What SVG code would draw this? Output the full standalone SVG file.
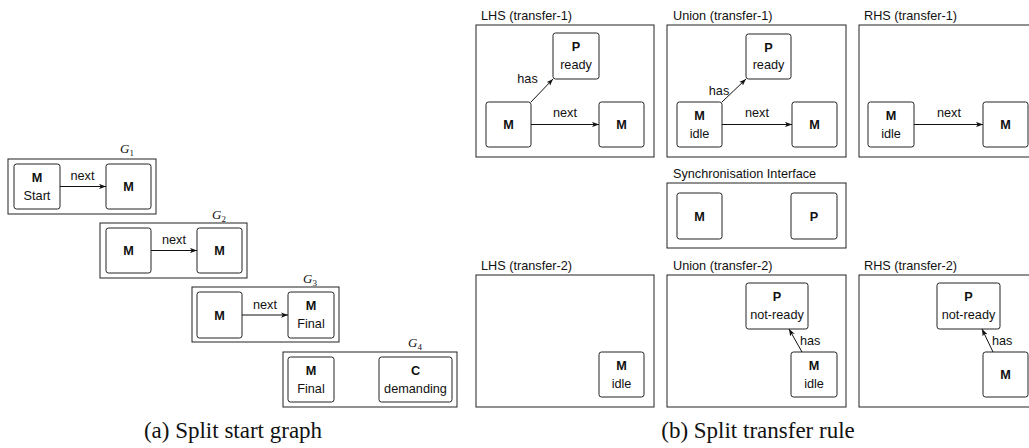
<svg xmlns="http://www.w3.org/2000/svg" width="1029" height="448" viewBox="0 0 1029 448">
<style>
.frame{fill:#fff;stroke:#222;stroke-width:1}
.node{fill:#fff;stroke:#222;stroke-width:1}
.t{font-family:"Liberation Sans",Arial,Helvetica,sans-serif;font-size:12.7px;fill:#111}
.b{font-weight:bold}
.m{text-anchor:middle}
.edge{fill:none;stroke:#111;stroke-width:1}
.g{font-family:"Liberation Serif","Times New Roman",serif;font-style:italic;font-size:13px;fill:#111}
.cap{font-family:"Liberation Serif","Times New Roman",serif;font-size:23px;fill:#111;text-anchor:middle}
</style>
<defs>
<marker id="arr" viewBox="0 0 8 6" refX="8" refY="3" markerWidth="7" markerHeight="5.5" markerUnits="userSpaceOnUse" orient="auto">
<path d="M0,0 L8,3 L0,6 L2,3 Z" fill="#111"/>
</marker>
</defs>
<rect width="1029" height="448" fill="#fff"/>

<!-- Left: split start graph -->
<g id="G1">
<rect class="frame" x="8" y="159" width="148" height="55"/>
<text class="g" x="120" y="153">G<tspan font-size="9" dy="2.5" font-style="normal">1</tspan></text>
<g id="G1-n1"><rect class="node" x="14" y="164" width="46" height="45" rx="2.5"/><text class="t b m" x="37" y="182">M</text><text class="t m" x="37" y="199.5">Start</text></g>
<g id="G1-n2"><rect class="node" x="106" y="164" width="45" height="45" rx="2.5"/><text class="t b m" x="128.5" y="191">M</text></g>
</g>
<g id="G2">
<rect class="frame" x="100" y="223" width="147" height="55"/>
<text class="g" x="212" y="219">G<tspan font-size="9" dy="2.5" font-style="normal">2</tspan></text>
<g id="G2-n1"><rect class="node" x="106" y="228" width="45" height="45" rx="2.5"/><text class="t b m" x="128.5" y="255">M</text></g>
<g id="G2-n2"><rect class="node" x="197" y="228" width="45" height="45" rx="2.5"/><text class="t b m" x="219.5" y="255">M</text></g>
</g>
<g id="G3">
<rect class="frame" x="192" y="287" width="147" height="55"/>
<text class="g" x="303" y="283">G<tspan font-size="9" dy="2.5" font-style="normal">3</tspan></text>
<g id="G3-n1"><rect class="node" x="197" y="292" width="45" height="46" rx="2.5"/><text class="t b m" x="219.5" y="319.5">M</text></g>
<g id="G3-n2"><rect class="node" x="288" y="292" width="46" height="46" rx="2.5"/><text class="t b m" x="311" y="310">M</text><text class="t m" x="311" y="327.5">Final</text></g>
</g>
<g id="G4">
<rect class="frame" x="283" y="352" width="174" height="55"/>
<text class="g" x="408" y="347">G<tspan font-size="9" dy="2.5" font-style="normal">4</tspan></text>
<g id="G4-n1"><rect class="node" x="288" y="357" width="46" height="45" rx="2.5"/><text class="t b m" x="311" y="375">M</text><text class="t m" x="311" y="392.5">Final</text></g>
<g id="G4-n2"><rect class="node" x="379" y="357" width="73" height="45" rx="2.5"/><text class="t b m" x="415.5" y="375">C</text><text class="t m" x="415.5" y="392.5">demanding</text></g>
</g>

<!-- Right: split transfer rule -->
<g id="LHS1">
<text class="t" x="481" y="19.5">LHS (transfer-1)</text>
<rect class="frame" x="476" y="25" width="178" height="132"/>
<g id="LHS1-P"><rect class="node" x="553" y="33" width="46" height="46" rx="2.5"/><text class="t b m" x="576" y="51">P</text><text class="t m" x="576" y="68.5">ready</text></g>
<g id="LHS1-M1"><rect class="node" x="486" y="102" width="45" height="45" rx="2.5"/><text class="t b m" x="508.5" y="129">M</text></g>
<g id="LHS1-M2"><rect class="node" x="599" y="102" width="45" height="45" rx="2.5"/><text class="t b m" x="621.5" y="129">M</text></g>
</g>
<g id="UNION1">
<text class="t" x="673" y="19.5">Union (transfer-1)</text>
<rect class="frame" x="667" y="25" width="179" height="132"/>
<g id="UNION1-P"><rect class="node" x="746" y="34" width="45" height="45" rx="2.5"/><text class="t b m" x="768.5" y="51.5">P</text><text class="t m" x="768.5" y="69">ready</text></g>
<g id="UNION1-M1"><rect class="node" x="677" y="102" width="45" height="45" rx="2.5"/><text class="t b m" x="699.5" y="120">M</text><text class="t m" x="699.5" y="137.5">idle</text></g>
<g id="UNION1-M2"><rect class="node" x="792" y="102" width="45" height="45" rx="2.5"/><text class="t b m" x="814.5" y="129">M</text></g>
</g>
<g id="RHS1">
<text class="t" x="864" y="19.5">RHS (transfer-1)</text>
<rect class="frame" x="859" y="25" width="180" height="132"/>
<g id="RHS1-M1"><rect class="node" x="868" y="102" width="46" height="45" rx="2.5"/><text class="t b m" x="891" y="120">M</text><text class="t m" x="891" y="137.5">idle</text></g>
<g id="RHS1-M2"><rect class="node" x="983" y="102" width="45" height="45" rx="2.5"/><text class="t b m" x="1005.5" y="129">M</text></g>
</g>
<g id="SYNC">
<text class="t" x="673" y="177.5">Synchronisation Interface</text>
<rect class="frame" x="667" y="183" width="179" height="65"/>
<g id="SYNC-M"><rect class="node" x="677" y="193" width="45" height="46" rx="2.5"/><text class="t b m" x="699.5" y="220.5">M</text></g>
<g id="SYNC-P"><rect class="node" x="791" y="193" width="46" height="46" rx="2.5"/><text class="t b m" x="814" y="220.5">P</text></g>
</g>
<g id="LHS2">
<text class="t" x="481" y="269.5">LHS (transfer-2)</text>
<rect class="frame" x="476" y="275" width="178" height="132"/>
<g id="LHS2-M"><rect class="node" x="599" y="352" width="45" height="45" rx="2.5"/><text class="t b m" x="621.5" y="370">M</text><text class="t m" x="621.5" y="387.5">idle</text></g>
</g>
<g id="UNION2">
<text class="t" x="673" y="269.5">Union (transfer-2)</text>
<rect class="frame" x="667" y="275" width="179" height="132"/>
<g id="UNION2-P"><rect class="node" x="746" y="283" width="62" height="46" rx="2.5"/><text class="t b m" x="777" y="301">P</text><text class="t m" x="777" y="318.5">not-ready</text></g>
<g id="UNION2-M"><rect class="node" x="791" y="352" width="46" height="45" rx="2.5"/><text class="t b m" x="814" y="370">M</text><text class="t m" x="814" y="387.5">idle</text></g>
</g>
<g id="RHS2">
<text class="t" x="864" y="269.5">RHS (transfer-2)</text>
<rect class="frame" x="859" y="275" width="180" height="132"/>
<g id="RHS2-P"><rect class="node" x="937" y="283" width="63" height="46" rx="2.5"/><text class="t b m" x="968.5" y="301">P</text><text class="t m" x="968.5" y="318.5">not-ready</text></g>
<g id="RHS2-M"><rect class="node" x="983" y="352" width="45" height="45" rx="2.5"/><text class="t b m" x="1005.5" y="379">M</text></g>
</g>

<g id="connectors">
<line class="edge" x1="60" y1="186.5" x2="106" y2="186.5" marker-end="url(#arr)"/>
<text class="t m" x="82.5" y="180">next</text>
<line class="edge" x1="151" y1="250.5" x2="197" y2="250.5" marker-end="url(#arr)"/>
<text class="t m" x="174" y="244">next</text>
<line class="edge" x1="242" y1="315" x2="288" y2="315" marker-end="url(#arr)"/>
<text class="t m" x="265" y="308.5">next</text>

<line class="edge" x1="531" y1="102" x2="553" y2="79" marker-end="url(#arr)"/>
<text class="t m" x="527.5" y="83">has</text>
<line class="edge" x1="531" y1="124.5" x2="599" y2="124.5" marker-end="url(#arr)"/>
<text class="t m" x="565" y="117">next</text>

<line class="edge" x1="722" y1="102" x2="746" y2="79" marker-end="url(#arr)"/>
<text class="t m" x="719" y="95">has</text>
<line class="edge" x1="722" y1="124.5" x2="792" y2="124.5" marker-end="url(#arr)"/>
<text class="t m" x="757" y="117">next</text>

<line class="edge" x1="914" y1="124.5" x2="983" y2="124.5" marker-end="url(#arr)"/>
<text class="t m" x="949" y="117">next</text>

<line class="edge" x1="802" y1="352" x2="789" y2="329" marker-end="url(#arr)"/>
<text class="t" x="800" y="345">has</text>
<line class="edge" x1="993" y1="352" x2="982" y2="329" marker-end="url(#arr)"/>
<text class="t" x="992" y="345">has</text>
</g>

<text class="cap" x="233" y="438">(a) Split start graph</text>
<text class="cap" x="758" y="438">(b) Split transfer rule</text>
</svg>
